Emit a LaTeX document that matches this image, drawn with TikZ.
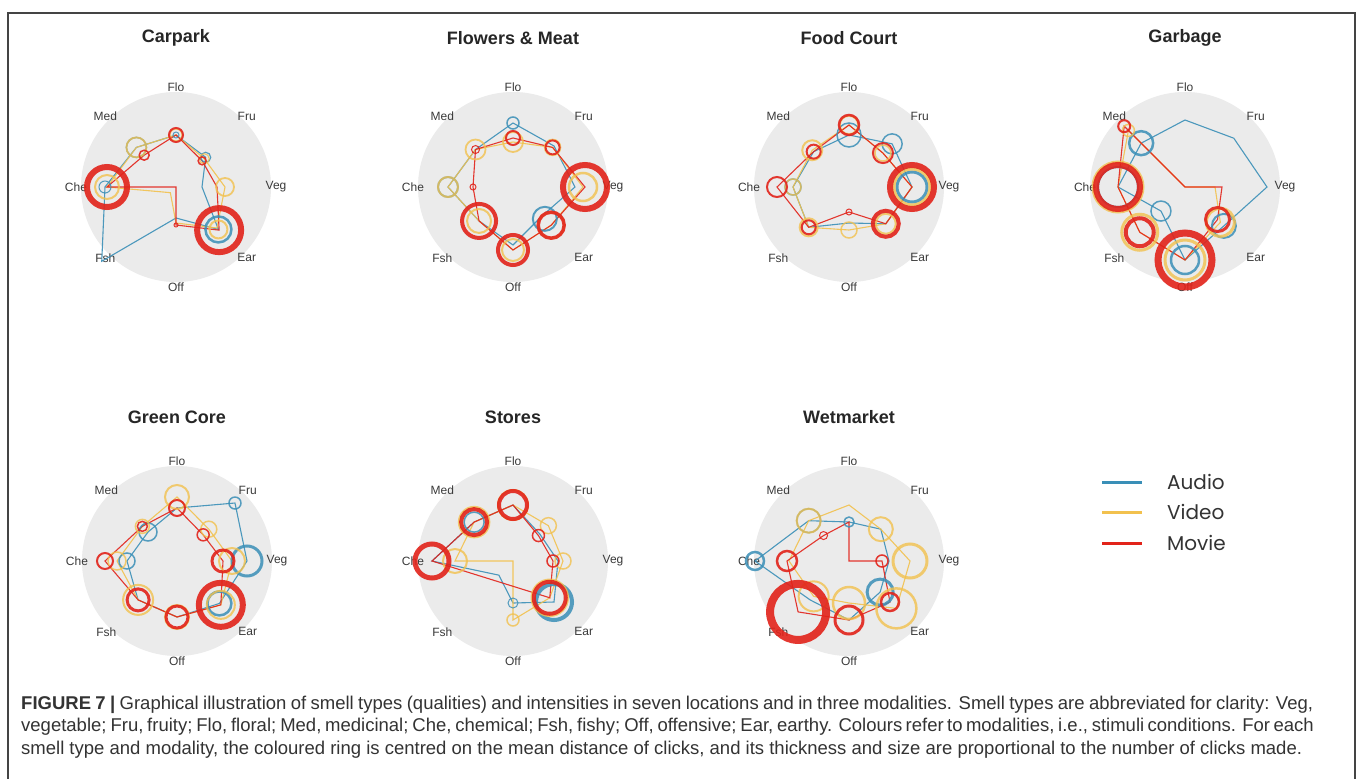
\documentclass[tikz,border=0pt]{standalone}
\usepackage{fontspec}
\setmainfont{Liberation Sans}
\newfontfamily\legfont{Poppins}
\usetikzlibrary{calc}
\definecolor{audc}{HTML}{3A8FB7}
\definecolor{vidc}{HTML}{F2C14E}
\definecolor{movc}{HTML}{E2231A}
\definecolor{diskc}{HTML}{EBEBEB}
\definecolor{labc}{HTML}{3A3A3A}
\definecolor{capc}{HTML}{333333}
\definecolor{framec}{HTML}{444444}
\newcommand\modpoly[9]{\draw[#1] (90:#2pt)--(45:#3pt)--(0:#4pt)--(-45:#5pt)--(-90:#6pt)--(-135:#7pt)--(180:#8pt)--(135:#9pt)--cycle;}
\newcommand\modrings[2]{\foreach \ang/\rad/\sz/\lw in {#2}{\draw[#1,line width=\lw pt] (\ang:\rad pt) circle[radius=\sz pt];}}
\newcommand\chartbase[5]{%
  \begin{scope}[shift={(#2,#3)}]
    \fill[diskc] (0,0) circle[radius=95pt];
    \foreach \ang/\lab in {90/Flo,45/Fru,0/Veg,-45/Ear,-90/Off,-135/Fsh,180/Che,135/Med}
      \node[lab] (#1-\lab) at (\ang:100pt) {\lab};
    \node[ttl] (#1-title) at (0,-#5) {#4};
  \end{scope}}
\tikzset{
  lab/.style={font=\fontsize{12}{14}\selectfont, text=labc, inner sep=0pt},
  ttl/.style={font=\bfseries\fontsize{18}{21}\selectfont, text=black!85, inner sep=0pt},
  au/.style={draw=audc, line width=1.1pt, opacity=.9},
  vi/.style={draw=vidc, line width=1.1pt, opacity=.9},
  mo/.style={draw=movc, line width=1.1pt, opacity=.9},
  aur/.style={draw=audc, opacity=.85},
  vir/.style={draw=vidc, opacity=.8},
  mor/.style={draw=movc, opacity=.9},
  legtext/.style={font=\legfont\fontsize{20}{22}\selectfont, text=black!80, anchor=west, inner sep=0pt},
  captext/.style={font=\fontsize{18.5}{22}\selectfont, text=capc, anchor=base west, inner sep=0pt},
}
\begin{document}
\begin{tikzpicture}[x=1pt,y=-1pt]
\useasboundingbox (0,0) rectangle (1358,779);
\fill[white] (0,0) rectangle (1358,779);
\draw[framec, line width=1.3pt] (8,13) rectangle (1355,800);

% ---------- Carpark
\chartbase{c1}{176}{187}{Carpark}{149}
\begin{scope}[shift={(176,187)}]
\modpoly{au}{52}{42}{26}{60}{31}{105}{71}{56}
\modpoly{vi}{52}{40}{49}{58}{36}{8}{69}{56}
\modpoly{mo}{52}{37}{41}{61}{38}{0}{69}{45}
\modrings{aur}{90/52/3/1, 45/42/5/1.2, -45/60/13/2.5, 135/56/10/1.5, 180/71/6/1}
\modrings{vir}{90/52/6/1.2, 45/40/5/1.2, 0/49/9/1.8, -45/60/9/2, 180/69/12/2, 135/56/10/1.8}
\modrings{mor}{90/52/7/2, 45/37/4/1.5, -45/61/22/6, 180/69/20/6, 135/45/5/1.5, -90/38/2/1}
\end{scope}

% ---------- Flowers & Meat
\chartbase{c2}{513}{187}{Flowers \& Meat}{149}
\begin{scope}[shift={(513,187)}]
\modpoly{au}{64}{58}{62}{41}{58}{48}{65}{53}
\modpoly{vi}{45}{56}{70}{54}{63}{48}{65}{53}
\modpoly{mo}{49}{56}{72}{54}{63}{48}{40}{53}
\modrings{aur}{90/64/6/1.5, -45/45/12/2, 180/65/10/1.8}
\modrings{vir}{90/45/10/1.8, 135/53/10/1.8, 180/65/10/2, -135/48/12/2, -90/63/11/2, -45/54/13/2, 0/70/14/2.5, 45/56/8/1.5}
\modrings{mor}{90/49/7/2, 45/56/7/2, 0/72/22/6, -45/54/13/3.5, -90/63/15/4, -135/48/17/4, 180/40/3/1, 135/53/4/1}
\end{scope}

% ---------- Food Court
\chartbase{c3}{849}{187}{Food Court}{149}
\begin{scope}[shift={(849,187)}]
\modpoly{au}{52}{61}{63}{52}{36}{57}{56}{50}
\modpoly{vi}{62}{48}{63}{52}{43}{57}{56}{52}
\modpoly{mo}{62}{48}{63}{52}{25}{57}{72}{50}
\modrings{aur}{90/52/12/1.5, 45/61/10/1.5, 0/63/15/3, 180/56/8/1.5}
\modrings{vir}{90/62/9/1.5, 45/48/8/1.5, 0/63/18/3, -45/52/10/2, -90/43/8/1.5, -135/57/9/2, 180/56/8/1.5, 135/52/10/2}
\modrings{mor}{90/62/10/2.5, 45/48/10/2, 0/63/22/6, -45/52/13/4, -90/25/3/1, -135/57/7/2, 180/72/10/2, 135/50/7/2}
\end{scope}

% ---------- Garbage
\chartbase{c4}{1185}{187}{Garbage}{149}
\begin{scope}[shift={(1185,187)}]
\modpoly{au}{67}{69}{82}{55}{73}{34}{67}{62}
\modpoly{vi}{0}{0}{30}{50}{73}{64}{67}{80}
\modpoly{mo}{0}{0}{37}{46}{73}{64}{67}{86}
\modrings{aur}{-90/73/14/2.5, -135/34/10/1.5, 180/67/20/2, 135/62/12/2.5, -45/55/12/2}
\modrings{vir}{180/67/25/3, -135/64/18/3, -90/73/20/3, -45/50/14/3, 135/80/6/1.5}
\modrings{mor}{135/86/6/2, -45/46/12/3, -90/73/27/7, -135/64/14/4, 180/67/22/6}
\end{scope}

% ---------- Green Core
\chartbase{c5}{177}{561}{Green Core}{144}
\begin{scope}[shift={(177,561)}]
\modpoly{au}{53}{82}{70}{60}{56}{55}{50}{41}
\modpoly{vi}{64}{45}{55}{62}{56}{55}{60}{49}
\modpoly{mo}{53}{37}{46}{62}{56}{55}{72}{49}
\modrings{aur}{45/82/6/1.5, 0/70/15/3, -45/60/12/2.5, 180/50/8/1.5, 135/41/9/1.5}
\modrings{vir}{90/64/12/2, 45/45/8/1.5, 0/55/13/2, -45/62/14/2, -90/56/12/2, -135/55/15/2, 180/60/9/1.5, 135/49/7/1.5}
\modrings{mor}{90/53/8/2, 45/37/6/1.5, 0/46/11/3, -45/62/22/6, -90/56/11/3, -135/55/11/3, 180/72/8/2, 135/49/5/1.5}
\end{scope}

% ---------- Stores
\chartbase{c6}{513}{561}{Stores}{144}
\begin{scope}[shift={(513,561)}]
\modpoly{au}{56}{38}{45}{58}{42}{20}{81}{55}
\modpoly{vi}{56}{50}{50}{52}{59}{0}{58}{55}
\draw[mo] (90:56pt)--(45:36pt)--(0:40pt)--(-45:52pt)--(180:81pt)--(135:55pt)--cycle;
\modrings{aur}{-45/58/18/4, 135/55/10/1.5, -90/42/5/1}
\modrings{vir}{90/56/15/2, 135/55/15/2.5, 180/58/12/2, 45/50/8/1.5, 0/50/8/1.5, -45/52/18/2.5, -90/59/6/1.5}
\modrings{mor}{90/56/14/4, 135/55/13/4, 180/81/17/5, -45/52/16/4, 0/40/6/1.5, 45/36/6/1.5}
\end{scope}

% ---------- Wetmarket
\chartbase{c7}{849}{561}{Wetmarket}{144}
\begin{scope}[shift={(849,561)}]
\modpoly{au}{39}{45}{40}{44}{59}{55}{94}{57}
\modpoly{vi}{56}{45}{61}{67}{42}{50}{60}{57}
\modpoly{mo}{39}{0}{33}{58}{59}{72}{62}{36}
\modrings{aur}{180/94/9/2.5, 135/57/12/1.5, 90/39/5/1.5, -45/44/13/3}
\modrings{vir}{45/45/12/2, 0/61/17/3, -45/67/20/2.5, -90/42/16/2.5, -135/50/15/2, 135/57/12/2}
\modrings{mor}{0/33/6/1.5, -45/58/9/2.5, -90/59/14/3, -135/72/28/8, 180/62/10/2.5, 135/36/4/1}
\end{scope}

% ---------- Legend
\node[legtext] (lgA) at (1167,482) {Audio};
\node[legtext] (lgV) at (1167,512) {Video};
\node[legtext] (lgM) at (1167,543) {Movie};
\draw[audc, line width=3pt] (1102,482) -- (1142,482);
\draw[vidc, line width=3pt] (1102,512) -- (1142,512);
\draw[movc, line width=3pt] (1102,543) -- (1142,543);

% ---------- Caption
\node[captext] (cap1) at (21,709) {\makebox[1292pt][s]{\textbf{FIGURE 7 |} Graphical illustration of smell types (qualities) and intensities in seven locations and in three modalities. Smell types are abbreviated for clarity: Veg,}};
\node[captext] (cap2) at (21,731.5) {\makebox[1292pt][s]{vegetable; Fru, fruity; Flo, floral; Med, medicinal; Che, chemical; Fsh, fishy; Off, offensive; Ear, earthy. Colours refer to modalities, i.e., stimuli conditions. For each}};
\node[captext] (cap3) at (21,754) {smell type and modality, the coloured ring is centred on the mean distance of clicks, and its thickness and size are proportional to the number of clicks made.};
\end{tikzpicture}
\end{document}
